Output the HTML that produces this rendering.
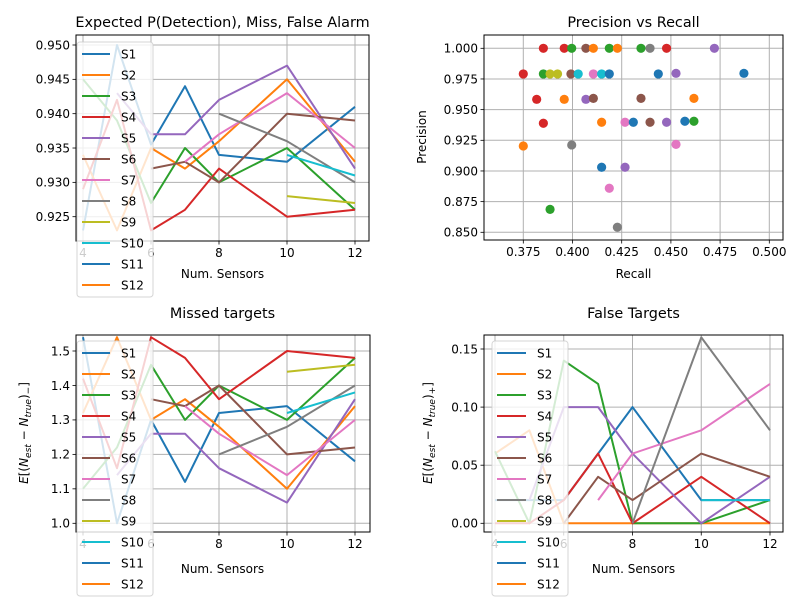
<!DOCTYPE html>
<html><head><meta charset="utf-8">
<style>
html,body{margin:0;padding:0;background:#fff;}
svg{display:block;font-family:"DejaVu Sans","Liberation Sans",sans-serif;}
</style></head>
<body>
<svg id="fig" width="800" height="600" viewBox="0 0 800 600" xmlns="http://www.w3.org/2000/svg"></svg>
<script>
const colors=['#1f77b4','#ff7f0e','#2ca02c','#d62728','#9467bd','#8c564b','#e377c2','#7f7f7f','#bcbd22','#17becf','#1f77b4','#ff7f0e'];
const seriesNames=['S1','S2','S3','S4','S5','S6','S7','S8','S9','S10','S11','S12'];
const sensors=[4,5,6,7,8,10,12];
// Panel 1: expected P(detection), null = no value
const pdS1=[0.923,0.950,0.9355,0.944,0.934,0.933,0.941];
const pdS2=[0.934,0.923,0.935,0.932,0.936,0.945,0.933];
const pdS3=[0.945,0.939,0.927,0.935,0.930,0.935,0.926];
const pdS4=[0.929,0.942,0.923,0.926,0.932,0.925,0.926];
const pdS5=[null,0.943,0.937,0.937,0.942,0.947,0.932];
const pdS6=[null,null,0.932,0.933,0.930,0.940,0.939];
const pdS7=[null,null,null,0.933,0.937,0.943,0.935];
const pdS8=[null,null,null,null,0.940,0.936,0.930];
const pdS9=[null,null,null,null,null,0.928,0.927];
const pdS10=[null,null,null,null,null,0.934,0.931];
// Panel 3: missed targets
const mtS1=[1.54,1.00,1.30,1.12,1.32,1.34,1.18];
const mtS2=[1.32,1.54,1.30,1.36,1.28,1.10,1.34];
const mtS3=[1.10,1.22,1.46,1.30,1.40,1.30,1.48];
const mtS4=[1.42,1.16,1.54,1.48,1.36,1.50,1.48];
const mtS5=[null,1.14,1.26,1.26,1.16,1.06,1.36];
const mtS6=[null,null,1.36,1.34,1.40,1.20,1.22];
const mtS7=[null,null,null,1.34,1.26,1.14,1.30];
const mtS8=[null,null,null,null,1.20,1.28,1.40];
const mtS9=[null,null,null,null,null,1.44,1.46];
const mtS10=[null,null,null,null,null,1.32,1.38];
// Panel 4: false targets
const ftS1=[0.02,0.02,0.02,0.06,0.10,0.02,0.02];
const ftS2=[0.06,0.08,0.00,0.00,0.00,0.00,0.00];
const ftS3=[0.062,0.00,0.14,0.12,0.00,0.00,0.02];
const ftS4=[0.00,0.00,0.02,0.06,0.00,0.04,0.00];
const ftS5=[null,0.02,0.10,0.10,0.06,0.00,0.04];
const ftS6=[null,null,0.00,0.04,0.02,0.06,0.04];
const ftS7=[null,null,null,0.02,0.06,0.08,0.12];
const ftS8=[null,null,null,null,0.00,0.16,0.08];
const ftS9=[null,null,null,null,null,null,null];
const ftS10=[null,null,null,null,null,0.02,0.02];
// Panel 2: precision vs recall scatter
const prRecall=[0.3852,0.3958,0.3996,0.4068,0.4106,0.4187,0.4228,0.4348,0.4394,0.4478,0.4721,
 0.375,0.3852,0.3886,0.3924,0.3992,0.4029,0.4106,0.4148,0.4187,0.4436,0.4526,0.4871,
 0.3818,0.3958,0.4068,0.4106,0.4348,0.4617,
 0.3852,0.4148,0.4267,0.4309,0.4394,0.4478,0.4571,0.4617,
 0.375,0.3996,0.4526,0.4148,0.4267,0.4187,0.3886,0.4228];
const prPrecision=[1,1,1,1,1,1,1,1,1,1,1,
 0.9791,0.9791,0.9791,0.9791,0.9791,0.9791,0.9791,0.9791,0.9791,0.9791,0.9796,0.9796,
 0.9584,0.9584,0.9584,0.9592,0.9592,0.9592,
 0.9389,0.9397,0.9397,0.9397,0.9397,0.9397,0.9405,0.9405,
 0.9204,0.9212,0.9217,0.903,0.903,0.8859,0.8687,0.8541];
const prSeries=[3,3,2,5,1,2,1,2,7,3,4,
 3,2,8,8,5,9,6,9,0,0,4,0,
 3,1,4,5,5,1,
 3,1,6,0,5,4,0,2,
 1,7,6,0,4,6,2,7];

const svg=document.getElementById('fig');
const NS='http://www.w3.org/2000/svg';
function el(tag,attrs,parent){const e=document.createElementNS(NS,tag);for(const k in attrs)e.setAttribute(k,attrs[k]);(parent||svg).appendChild(e);return e;}
function lin(d0,d1,r0,r1){return v=>r0+(v-d0)/(d1-d0)*(r1-r0);}
function fmt(v,dp){return v.toFixed(dp);}

function axesFrame(ax,name,xticks,xdp,yticks,ydp){
  const g=el('g',{});
  
  
  xticks.forEach(t=>{const x=ax.sx(t);el('line',{x1:x,x2:x,y1:ax.t,y2:ax.b,stroke:'#b0b0b0','stroke-width':1},g);});
  yticks.forEach(t=>{const y=ax.sy(t);el('line',{x1:ax.l,x2:ax.r,y1:y,y2:y,stroke:'#b0b0b0','stroke-width':1},g);});
  return g;
}
function axesDecor(ax,g,xticks,xdp,yticks,ydp){
  el('rect',{x:ax.l,y:ax.t,width:ax.r-ax.l,height:ax.b-ax.t,fill:'none',stroke:'#000','stroke-width':1},g);
  xticks.forEach(t=>{const x=ax.sx(t);el('line',{x1:x,x2:x,y1:ax.b,y2:ax.b+3.5,stroke:'#000','stroke-width':0.8},g);
    const tx=el('text',{x:x,y:ax.b+16,'text-anchor':'middle','font-size':12,fill:'#000'},g);tx.textContent=fmt(t,xdp);
    
    });
  yticks.forEach(t=>{const y=ax.sy(t);el('line',{x1:ax.l-3.5,x2:ax.l,y1:y,y2:y,stroke:'#000','stroke-width':0.8},g);
    const tx=el('text',{x:ax.l-6,y:y+4.3,'text-anchor':'end','font-size':12,fill:'#000'},g);tx.textContent=fmt(t,ydp);
    
    });
}
function lines(ax,g,data){
  data.forEach((arr,i)=>{
    let pts=[];
    arr.forEach((v,j)=>{if(v!==null)pts.push(ax.sx(sensors[j]).toFixed(1)+','+ax.sy(v).toFixed(1));});
    if(pts.length>1){const p=el('polyline',{points:pts.join(' '),fill:'none',stroke:colors[i],'stroke-width':2,'stroke-linejoin':'round'},g);
      
      }
  });
}
function legend(x,y,lineLen,name){
  const g=el('g',{});
  
  
  el('rect',{x:x,y:y,width:76,height:255,rx:3,fill:'#fff','fill-opacity':0.8,stroke:'#ccc','stroke-opacity':0.8},g);
  seriesNames.forEach((s,i)=>{
    const cy=y+12+i*21.0;
    const e=el('g',{},g);
    
    
    el('line',{x1:x+5,x2:x+5+lineLen,y1:cy,y2:cy,stroke:colors[i],'stroke-width':2},e);
    const t=el('text',{x:x+5+lineLen+11,y:cy+4.5,'font-size':12,fill:'#000'},e);t.textContent=s;
  });
}
function text(x,y,s,size,name,rot,anchor){
  const t=el('text',{x:x,y:y,'font-size':size,'text-anchor':anchor||'middle',fill:'#000'});
  if(rot)t.setAttribute('transform','rotate(-90 '+x+' '+y+')');
  t.textContent=s;
  
  
  return t;
}

// Panel 1
const ax1={l:76,r:369,t:35,b:241};ax1.sx=lin(4,12,83,355);ax1.sy=lin(0.925,0.950,216.7,45);
let xt=[4,6,8,10,12],yt1=[0.925,0.930,0.935,0.940,0.945,0.950];
let g1=axesFrame(ax1,'detection-panel',xt,0,yt1,3);
lines(ax1,g1,[pdS1,pdS2,pdS3,pdS4,pdS5,pdS6,pdS7,pdS8,pdS9,pdS10]);
axesDecor(ax1,g1,xt,0,yt1,3);
text(222.5,27,'Expected P(Detection), Miss, False Alarm',14.4,'detection-title');
text(222.5,278,'Num. Sensors',12,'detection-x-axis-title');
legend(77,42,28,'detection-legend');

// Panel 2
const ax2={l:484,r:783,t:35,b:240};ax2.sx=lin(0.375,0.5,523.3,769.3);ax2.sy=lin(0.85,1.0,232.3,48.3);
const xt2=[0.375,0.400,0.425,0.450,0.475,0.500],yt2=[0.850,0.875,0.900,0.925,0.950,0.975,1.000];
let g2=axesFrame(ax2,'precision-recall-panel',xt2,3,yt2,3);
prRecall.forEach((r,i)=>{const c=el('circle',{cx:ax2.sx(r),cy:ax2.sy(prPrecision[i]),r:4.6,fill:colors[prSeries[i]]},g2);
  
  });
axesDecor(ax2,g2,xt2,3,yt2,3);
text(633.5,27,'Precision vs Recall',14.4,'precision-recall-title');
text(633.5,278,'Recall',12,'recall-axis-title');
text(426,137,'Precision',12,'precision-axis-title',true);

// Panel 3
const ax3={l:76,r:370,t:335,b:532};ax3.sx=lin(4,12,83,355);ax3.sy=lin(1.0,1.5,523.3,351);
const yt3=[1.0,1.1,1.2,1.3,1.4,1.5];
let g3=axesFrame(ax3,'missed-targets-panel',xt,0,yt3,1);
lines(ax3,g3,[mtS1,mtS2,mtS3,mtS4,mtS5,mtS6,mtS7,mtS8,mtS9,mtS10]);
axesDecor(ax3,g3,xt,0,yt3,1);
text(222.5,318,'Missed targets',14.4,'missed-targets-title');
text(222.5,573,'Num. Sensors',12,'missed-x-axis-title');
const yl3=el('text',{x:28,y:433,'font-size':12,'text-anchor':'middle',transform:'rotate(-90 28 433)'});


yl3.innerHTML='<tspan font-style="italic">E</tspan>[(<tspan font-style="italic">N</tspan><tspan font-size="9" dy="3" font-style="italic">est</tspan><tspan dy="-3"> − </tspan><tspan font-style="italic">N</tspan><tspan font-size="9" dy="3" font-style="italic">true</tspan><tspan dy="-3">)</tspan><tspan font-size="9" dy="3">−</tspan><tspan dy="-3">]</tspan>';
legend(77,341,28,'missed-legend');

// Panel 4
const ax4={l:484,r:783,t:335,b:532};ax4.sx=lin(4,12,495,770);ax4.sy=lin(0,0.15,523.3,349);
const yt4=[0,0.05,0.10,0.15];
let g4=axesFrame(ax4,'false-targets-panel',xt,0,yt4,2);
lines(ax4,g4,[ftS1,ftS2,ftS3,ftS4,ftS5,ftS6,ftS7,ftS8,ftS9,ftS10]);
axesDecor(ax4,g4,xt,0,yt4,2);
text(633.5,318,'False Targets',14.4,'false-targets-title');
text(633.5,573,'Num. Sensors',12,'false-x-axis-title');
const yl4=el('text',{x:432,y:433,'font-size':12,'text-anchor':'middle',transform:'rotate(-90 432 433)'});


yl4.innerHTML='<tspan font-style="italic">E</tspan>[(<tspan font-style="italic">N</tspan><tspan font-size="9" dy="3" font-style="italic">est</tspan><tspan dy="-3"> − </tspan><tspan font-style="italic">N</tspan><tspan font-size="9" dy="3" font-style="italic">true</tspan><tspan dy="-3">)</tspan><tspan font-size="9" dy="3">+</tspan><tspan dy="-3">]</tspan>';
legend(492,341,29,'false-legend');
</script>
</body></html>
